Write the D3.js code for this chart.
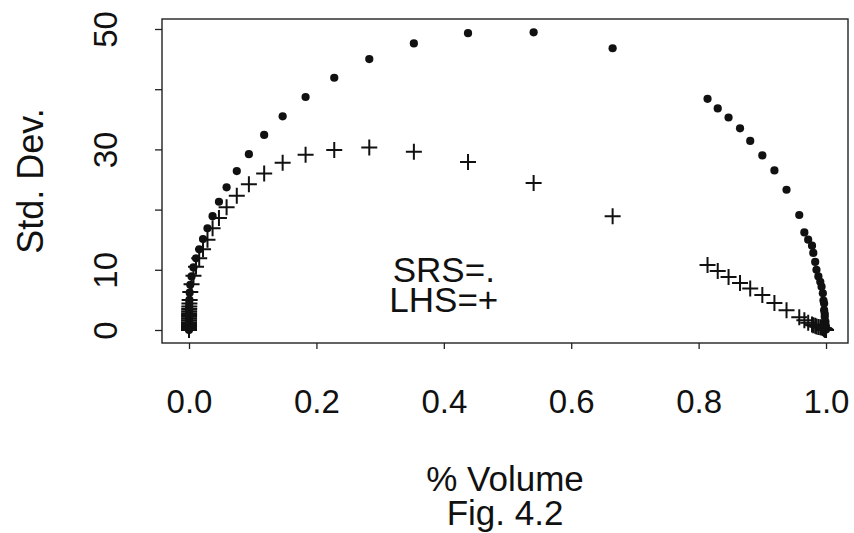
<!DOCTYPE html>
<html>
<head>
<meta charset="utf-8">
<script src="https://cdn.jsdelivr.net/npm/d3@7"></script>
<style>
  body { margin: 0; background: #fff; }
  text { font-family: "Liberation Sans", Arial, Helvetica, sans-serif; fill: #111; }
</style>
</head>
<body>
<div id="svgOutput"></div>
<script>
// Data

// left branch (shared volume grid, SRS and LHS)
const volumeLeft = [0.665, 0.541, 0.438, 0.353, 0.283, 0.228, 0.183, 0.147, 0.118, 0.094,
  0.075, 0.059, 0.047, 0.037, 0.029, 0.022, 0.016, 0.011, 0.007, 0.004,
  0.002, 0.001, 0.0006, 0.0004, 0.0003, 0.0002, 0.00015, 0.0001, 0.00008, 0.00006,
  0.00004, 0.00003, 0.00002, 0.00001, 0, 0, 0, 0];
const srsLeft = [46.8, 49.45, 49.3, 47.6, 45.0, 41.9, 38.7, 35.5, 32.4, 29.2,
  26.4, 23.7, 21.3, 18.9, 16.9, 15.1, 13.4, 11.9, 10.4, 8.9,
  7.5, 6.2, 5.0, 4.4, 3.9, 3.5, 3.1, 2.7, 2.3, 2.0,
  1.7, 1.4, 1.1, 0.8, 0.6, 0.4, 0.2, 0.0];
const lhsLeft = [18.9, 24.4, 27.9, 29.6, 30.3, 29.9, 29.1, 27.8, 26.0, 24.2,
  22.3, 20.4, 18.6, 16.9, 15.0, 13.4, 11.9, 10.5, 9.0, 7.6,
  6.3, 5.0, 4.4, 3.9, 3.5, 3.1, 2.8, 2.5, 2.2, 1.9,
  1.6, 1.3, 1.0, 0.8, 0.6, 0.4, 0.2, 0.0];

// right branch
const volumeRight = [0.814, 0.830, 0.847, 0.865, 0.881, 0.900, 0.919, 0.938, 0.958, 0.966,
  0.972, 0.978, 0.980, 0.983, 0.985, 0.988, 0.991, 0.993, 0.995, 0.996,
  0.997, 0.997, 0.998, 0.998, 0.999, 0.999, 1.0, 1.0];
const srsRight = [38.4, 36.8, 35.3, 33.5, 31.4, 29.0, 26.5, 23.3, 19.1, 16.2,
  15.0, 14.0, 12.8, 11.3, 10.0, 8.9, 8.0, 7.2, 6.1, 4.9,
  4.4, 3.3, 2.7, 2.2, 1.4, 0.9, 0.5, 0.1];
const lhsRight = [10.8, 9.8, 8.8, 7.8, 6.9, 5.8, 4.5, 3.3, 2.1, 1.6,
  1.2, 0.9, 0.8, 0.7, 0.6, 0.5, 0.45, 0.4, 0.35, 0.3,
  0.25, 0.2, 0.15, 0.1, 0.05, 0.03, 0.02, 0];

const xTicks = [0, 0.2, 0.4, 0.6, 0.8, 1.0];
const yTicks = [0, 10, 20, 30, 40, 50];
const yTickLabels = ["0", "10", "", "30", "", "50"];

const legendLines = ["SRS=.", "LHS=+"];
const legendAt = [[0.4, 10], [0.4, 5]];

(function () {
  document.addEventListener('DOMContentLoaded', function () {

    // Config

    const width = 854;
    const height = 533;
    const frame = { left: 162, right: 848, top: 19, bottom: 343 };

    const dotRadius = 4.1;
    const plusHalf = 8;

    const svg = d3.select("#svgOutput")
      .append("svg")
      .attr("width", width)
      .attr("height", height)
      .attr("viewBox", [0, 0, width, height]);

    // Scales (R style padding)

    const xScale = d3.scaleLinear()
      .domain([-0.0424, 1.0345])
      .range([frame.left, frame.right]);

    const yScale = d3.scaleLinear()
      .domain([-2.16, 51.66])
      .range([frame.bottom, frame.top]);

    // Points

    const srs = volumeLeft.map((v, i) => ({ x: v, y: srsLeft[i] }))
      .concat(volumeRight.map((v, i) => ({ x: v, y: srsRight[i] })));
    const lhs = volumeLeft.map((v, i) => ({ x: v, y: lhsLeft[i] }))
      .concat(volumeRight.map((v, i) => ({ x: v, y: lhsRight[i] })));

    svg.append("g")
      .selectAll("circle.dot")
      .data(srs)
      .join("circle")
      .attr("class", "dot")
      .attr("cx", d => xScale(d.x))
      .attr("cy", d => yScale(d.y))
      .attr("r", dotRadius)
      .attr("fill", "#111");

    svg.append("g")
      .selectAll("path.plus")
      .data(lhs)
      .join("path")
      .attr("class", "plus")
      .attr("transform", d => `translate(${xScale(d.x)},${yScale(d.y)})`)
      .attr("d", `M${-plusHalf},0H${plusHalf}M0,${-plusHalf}V${plusHalf}`)
      .attr("stroke", "#111")
      .attr("stroke-width", 2)
      .attr("fill", "none");

    // Frame

    svg.append("rect")
      .attr("x", frame.left)
      .attr("y", frame.top)
      .attr("width", frame.right - frame.left)
      .attr("height", frame.bottom - frame.top)
      .attr("fill", "none")
      .attr("stroke", "#222")
      .attr("stroke-width", 1.4);

    // Axes

    const xAxis = d3.axisBottom(xScale)
      .tickValues(xTicks)
      .tickFormat(d3.format(".1f"))
      .tickSize(6)
      .tickSizeOuter(0);

    const gx = svg.append("g")
      .attr("transform", `translate(0,${frame.bottom})`)
      .call(xAxis);

    gx.select(".domain").remove();
    gx.selectAll(".tick line").attr("stroke", "#222").attr("stroke-width", 1.3);
    gx.selectAll(".tick text")
      .attr("y", 70)
      .attr("dy", 0)
      .attr("font-size", 33)
      .attr("font-family", null);

    const yAxis = d3.axisLeft(yScale)
      .tickValues(yTicks)
      .tickFormat((d, i) => yTickLabels[i])
      .tickSize(7)
      .tickSizeOuter(0);

    const gy = svg.append("g")
      .attr("transform", `translate(${frame.left},0)`)
      .call(yAxis);

    gy.select(".domain").remove();
    gy.selectAll(".tick line").attr("stroke", "#222").attr("stroke-width", 1.3);
    gy.selectAll(".tick text")
      .attr("transform", "rotate(-90)")
      .attr("x", 0)
      .attr("y", -45)
      .attr("dy", 0)
      .attr("text-anchor", "middle")
      .attr("font-size", 33)
      .attr("font-family", null);

    // Titles

    const midX = (frame.left + frame.right) / 2;
    const midY = (frame.top + frame.bottom) / 2;

    svg.append("text")
      .attr("transform", `translate(43,${midY}) rotate(-90)`)
      .attr("text-anchor", "middle")
      .attr("font-size", 36)
      .text("Std. Dev.");

    svg.append("text")
      .attr("x", midX)
      .attr("y", 491)
      .attr("text-anchor", "middle")
      .attr("font-size", 35)
      .text("% Volume");

    svg.append("text")
      .attr("x", midX)
      .attr("y", 525)
      .attr("text-anchor", "middle")
      .attr("font-size", 35)
      .text("Fig. 4.2");

    // Legend text inside the plot

    svg.append("g")
      .selectAll("text")
      .data(legendLines)
      .join("text")
      .attr("x", (d, i) => xScale(legendAt[i][0]))
      .attr("y", (d, i) => yScale(legendAt[i][1]))
      .attr("dy", "0.36em")
      .attr("text-anchor", "middle")
      .attr("font-size", 35)
      .text(d => d);

  });
})();
</script>
</body>
</html>
